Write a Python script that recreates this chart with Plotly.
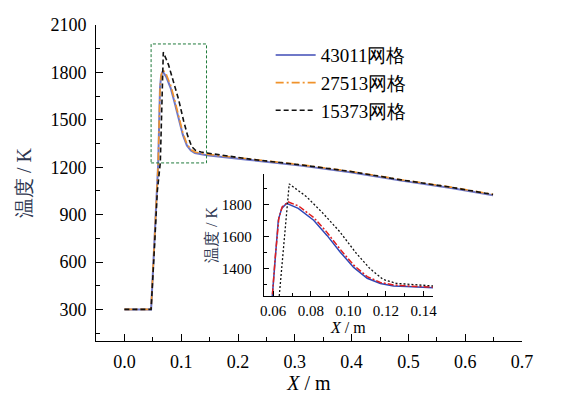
import plotly.graph_objects as go

# ---------------- data ----------------
x_43011 = [0.0, 0.047, 0.050, 0.053, 0.056, 0.0595, 0.0610, 0.0619, 0.0627, 0.0645,
           0.0671, 0.0733, 0.0815, 0.0886, 0.0957, 0.1028, 0.110, 0.117, 0.124,
           0.131, 0.145, 0.221, 0.310, 0.398, 0.487, 0.575, 0.649]
y_43011 = [300, 300, 520, 742, 975, 1225, 1450, 1600, 1702, 1775,
           1806, 1775, 1701, 1606, 1501, 1406, 1338, 1305, 1290,
           1286, 1276, 1246, 1210, 1168, 1115, 1068, 1022]

x_27513 = [0.0, 0.047, 0.050, 0.053, 0.056, 0.0595, 0.0610, 0.0620, 0.0630, 0.0648,
           0.0680, 0.0735, 0.0815, 0.0886, 0.0957, 0.1028, 0.110, 0.117, 0.124,
           0.131, 0.145, 0.221, 0.310, 0.398, 0.487, 0.575, 0.649]
y_27513 = [300, 300, 520, 742, 975, 1225, 1460, 1610, 1715, 1785,
           1815, 1790, 1718, 1625, 1518, 1420, 1348, 1312, 1296,
           1290, 1282, 1252, 1216, 1174, 1121, 1074, 1028]

x_15373 = [0.0, 0.047, 0.053, 0.058, 0.0632, 0.0660, 0.0685, 0.0777, 0.0865,
           0.0954, 0.1042, 0.1113, 0.1184, 0.1255, 0.135, 0.145, 0.221, 0.310,
           0.398, 0.487, 0.575, 0.649]
y_15373 = [300, 300, 700, 1050, 1228, 1580, 1928, 1848, 1744,
           1629, 1494, 1400, 1331, 1306, 1296, 1290, 1251, 1215,
           1173, 1120, 1073, 1027]

series_names = ["43011网格", "27513网格", "15373网格"]

main_x_range = [-0.05, 0.70]
main_y_range = [100, 2100]
inset_x_range = [0.055, 0.145]
inset_y_range = [1227, 1990]
zoom_box_x = [0.047, 0.1446]
zoom_box_y = [1227, 1980]

# ---------------- styling ----------------
SERIF = "Liberation Serif"
main_styles = [dict(color="#6f78c8", width=2, dash="solid"),
               dict(color="#f0922b", width=1.6, dash="8px,3px,2px,3px"),
               dict(color="#111111", width=1.6, dash="5px,3px")]
inset_styles = [dict(color="#2f48b8", width=1.5, dash="solid"),
                dict(color="#e01e1e", width=1.5, dash="6px,2px,2px,2px"),
                dict(color="#111111", width=1.3, dash="2px,2px")]

xs = [x_43011, x_27513, x_15373]
ys = [y_43011, y_27513, y_15373]

fig = go.Figure()
for xv, yv, nm, st in zip(xs, ys, series_names, main_styles):
    fig.add_trace(go.Scatter(x=xv, y=yv, mode="lines", name=nm, line=st,
                             xaxis="x", yaxis="y"))
for xv, yv, nm, st in zip(xs, ys, series_names, inset_styles):
    fig.add_trace(go.Scatter(x=xv, y=yv, mode="lines", name=nm, line=st,
                             showlegend=False, xaxis="x2", yaxis="y2"))

fig.add_shape(type="rect", xref="x", yref="y",
              x0=zoom_box_x[0], x1=zoom_box_x[1], y0=zoom_box_y[0], y1=zoom_box_y[1],
              line=dict(color="#1f7a3a", width=1, dash="3px,2px"))

axis_common = dict(showline=True, linecolor="black", linewidth=1, mirror=False,
                   showgrid=False, zeroline=False, ticks="inside", tickcolor="black",
                   ticklen=7, tickwidth=1, automargin=False)

# page body has an 8px margin: figure is sized/margined to compensate
fig.update_layout(
    template="none",
    width=560, height=386,
    margin=dict(l=88, r=46, t=17, b=53),
    paper_bgcolor="white", plot_bgcolor="rgba(0,0,0,0)",
    font=dict(family=SERIF, size=18, color="black"),
    xaxis=dict(axis_common, domain=[0, 1], range=main_x_range, tick0=0, dtick=0.1,
               tickformat=".1f", ticklabelstandoff=4,
               minor=dict(ticks="inside", ticklen=4, dtick=0.05, tickcolor="black"),
               title=dict(text="<i>X</i> / m", font=dict(size=20), standoff=2)),
    yaxis=dict(axis_common, domain=[0, 1], range=main_y_range, tick0=0, dtick=300,
               ticklabelstandoff=5,
               minor=dict(ticks="inside", ticklen=4, dtick=150, tickcolor="black"),
               title=dict(text="温度 / K", font=dict(size=20, color="#2e3650"), standoff=13)),
    xaxis2=dict(axis_common, domain=[0.394, 0.791], anchor="y2", range=inset_x_range,
                tick0=0.06, dtick=0.02, tickformat=".2f", ticklen=5,
                tickfont=dict(size=15), ticklabelstandoff=1,
                minor=dict(ticks="inside", ticklen=3, dtick=0.01, tickcolor="black"),
                title=dict(text="<i>X</i> / m", font=dict(size=16), standoff=0)),
    yaxis2=dict(axis_common, domain=[0.1424, 0.5285], anchor="x2", range=inset_y_range,
                tick0=1400, dtick=200, ticklen=5,
                tickfont=dict(size=15), ticklabelstandoff=8,
                minor=dict(ticks="inside", ticklen=3, dtick=100, tickcolor="black"),
                title=dict(text="温度 / K", font=dict(size=16, color="#2e3650"), standoff=0)),
    legend=dict(x=0.41, y=0.965, xanchor="left", yanchor="top",
                bgcolor="rgba(0,0,0,0)", borderwidth=0, itemwidth=40,
                font=dict(size=19, family=SERIF)),
)

fig.write_html("out.html")
